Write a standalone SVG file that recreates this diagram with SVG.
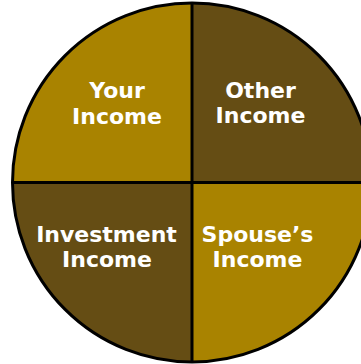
<svg xmlns="http://www.w3.org/2000/svg" width="361" height="364" viewBox="0 0 361 364">
<style>
.gold{fill:#A98300}
.brown{fill:#654D14}
.lbl{font-family:"DejaVu Sans","Verdana",sans-serif;font-weight:bold;font-size:22px;fill:#FFFFFF;text-anchor:middle}
.ln{stroke:#000;stroke-width:3;fill:none}
</style>
<rect width="361" height="364" fill="#FFFFFF"/>
<g id="your-income">
<path class="gold" d="M192,182.5 L12.5,182.5 A179.5,179.5 0 0 1 192,3 Z"/>
<text class="lbl" x="117" y="98">Your</text>
<text class="lbl" x="117" y="124">Income</text>
</g>
<g id="other-income">
<path class="brown" d="M192,182.5 L192,3 A179.5,179.5 0 0 1 371.5,182.5 Z"/>
<text class="lbl" x="260.5" y="98">Other</text>
<text class="lbl" x="260.5" y="123">Income</text>
</g>
<g id="investment-income">
<path class="brown" d="M192,182.5 L192,362 A179.5,179.5 0 0 1 12.5,182.5 Z"/>
<text class="lbl" x="106.5" y="242">Investment</text>
<text class="lbl" x="107" y="267">Income</text>
</g>
<g id="spouses-income">
<path class="gold" d="M192,182.5 L371.5,182.5 A179.5,179.5 0 0 1 192,362 Z"/>
<text class="lbl" x="257.5" y="242">Spouse’s</text>
<text class="lbl" x="257.5" y="267">Income</text>
</g>
<g id="connectors">
<circle class="ln" cx="192" cy="182.5" r="179.5"/>
<line class="ln" x1="192" y1="3" x2="192" y2="362"/>
<line class="ln" x1="12.5" y1="182.5" x2="371.5" y2="182.5"/>
</g>
</svg>
